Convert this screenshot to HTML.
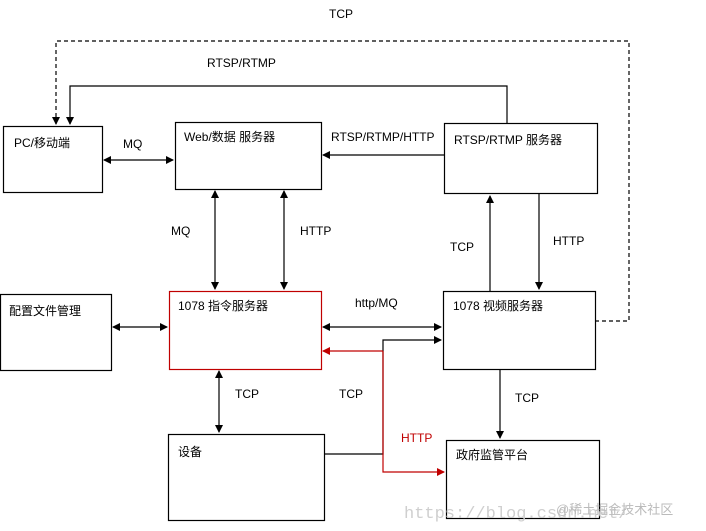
<!DOCTYPE html>
<html><head><meta charset="utf-8"><style>
html,body{margin:0;padding:0;background:#fff;}
svg{display:block;}
text{font-family:"Liberation Sans","Noto Sans CJK SC",sans-serif;font-size:12px;fill:#000;}
</style></head><body>
<svg width="706" height="531" viewBox="0 0 706 531" xmlns="http://www.w3.org/2000/svg">
<defs>
<marker id="a" markerWidth="8" markerHeight="8" refX="7" refY="4" orient="auto-start-reverse" markerUnits="userSpaceOnUse"><path d="M0,0 L8,4 L0,8 z" fill="#000"/></marker>
<marker id="r" markerWidth="8" markerHeight="8" refX="7" refY="4" orient="auto-start-reverse" markerUnits="userSpaceOnUse"><path d="M0,0 L8,4 L0,8 z" fill="#c00000"/></marker>
</defs>
<g fill="none" stroke="#000" stroke-width="1.2">
<rect x="3.5" y="126.5" width="99" height="66"/>
<rect x="175.5" y="122.5" width="146" height="67"/>
<rect x="444.5" y="123.5" width="153" height="70"/>
<rect x="0.5" y="294.5" width="111" height="76"/>
<rect x="169.5" y="291.5" width="152" height="78" stroke="#c00000"/>
<rect x="443.5" y="291.5" width="152" height="78"/>
<rect x="168.5" y="434.5" width="156" height="86"/>
<rect x="446.5" y="440.5" width="153" height="78"/>
<path d="M595,321 H629 V41 H56 V124" stroke-dasharray="4,3" marker-end="url(#a)"/>
<path d="M507,123 V86 H70 V124" marker-end="url(#a)"/>
<path d="M104,160 H173" marker-start="url(#a)" marker-end="url(#a)"/>
<path d="M444,155 H323" marker-end="url(#a)"/>
<path d="M215,191 V289" marker-start="url(#a)" marker-end="url(#a)"/>
<path d="M284,191 V289" marker-start="url(#a)" marker-end="url(#a)"/>
<path d="M490,291 V196" marker-end="url(#a)"/>
<path d="M539,194 V289" marker-end="url(#a)"/>
<path d="M113,327 H167" marker-start="url(#a)" marker-end="url(#a)"/>
<path d="M323,327 H441" marker-start="url(#a)" marker-end="url(#a)"/>
<path d="M324,454 H383 V340 H441" marker-end="url(#a)"/>
<path d="M383,351 H323" stroke="#c00000" marker-end="url(#r)"/>
<path d="M383,351 V472 H444" stroke="#c00000" marker-end="url(#r)"/>
<path d="M219,371 V432" marker-start="url(#a)" marker-end="url(#a)"/>
<path d="M500,369 V438" marker-end="url(#a)"/>
</g>
<text x="329" y="18">TCP</text>
<text x="207" y="67">RTSP/RTMP</text>
<text x="123" y="148">MQ</text>
<text x="14" y="147">PC/移动端</text>
<text x="184" y="141">Web/数据  服务器</text>
<text x="331" y="141">RTSP/RTMP/HTTP</text>
<text x="454" y="144">RTSP/RTMP  服务器</text>
<text x="171" y="235">MQ</text>
<text x="300" y="235">HTTP</text>
<text x="450" y="251">TCP</text>
<text x="553" y="245">HTTP</text>
<text x="9" y="315">配置文件管理</text>
<text x="178" y="310">1078  指令服务器</text>
<text x="355" y="307">http/MQ</text>
<text x="453" y="310">1078  视频服务器</text>
<text x="235" y="398">TCP</text>
<text x="339" y="398">TCP</text>
<text x="515" y="402">TCP</text>
<text x="401" y="442" style="fill:#c00000">HTTP</text>
<text x="178" y="456">设备</text>
<text x="456" y="459">政府监管平台</text>
<text x="404" y="518" style="font-family:'Liberation Mono',monospace;font-size:17px;fill:#cfcfcf">https://blog.csdn.net/</text>
<text x="556" y="514" style="font-size:13px;fill:#bbb">@稀土掘金技术社区</text>
</svg>
</body></html>
